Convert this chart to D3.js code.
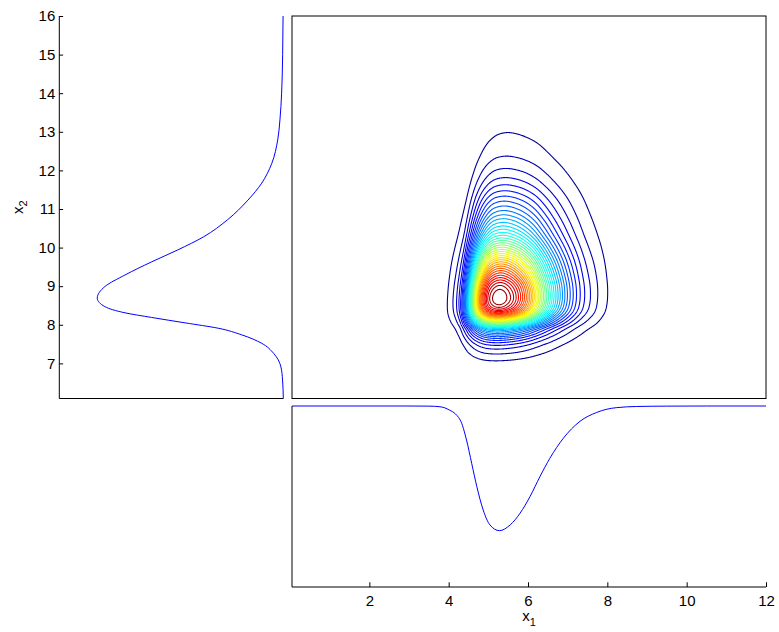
<!DOCTYPE html>
<html>
<head>
<meta charset="utf-8">
<script src="https://cdn.jsdelivr.net/npm/d3@7"></script>
<style>
  html, body { margin: 0; padding: 0; background: #fff; }
  svg text { font-family: "Liberation Sans", Arial, Helvetica, sans-serif; fill: #000; }
</style>
</head>
<body>
<svg id="chart" width="779" height="632"></svg>
<script>
// Marginal density of x1 (relative height, peak = 1)
const x1Values  = [0.05, 3.0, 3.5, 3.78, 3.98, 4.29, 4.45, 4.58, 4.71, 4.87, 5.04, 5.28,
                   5.55, 5.80, 6.05, 6.30, 6.55, 6.89, 7.31, 7.73, 7.97, 8.24, 8.74, 9.5, 10.5, 12.0];
const x1Density = [0, 0, 0.001, 0.006, 0.026, 0.112, 0.273, 0.46, 0.647, 0.834, 0.954, 1.0,
                   0.954, 0.86, 0.727, 0.567, 0.42, 0.259, 0.123, 0.052, 0.027, 0.013, 0.004, 0.001, 0, 0];

// Marginal density of x2 (relative height, peak = 1)
const x2Values  = [6.09, 6.57, 6.91, 7.09, 7.26, 7.52, 7.74, 7.91, 8.05, 8.19, 8.31, 8.47, 8.69,
                   8.99, 9.29, 9.63, 9.94, 10.28, 10.72, 11.23, 11.67, 12.18, 12.79, 13.31,
                   14.0, 15.0, 16.0];
const x2Density = [0, 0.004, 0.013, 0.027, 0.052, 0.116, 0.224, 0.349, 0.528, 0.708, 0.851, 0.959, 1.0,
                   0.959, 0.851, 0.708, 0.567, 0.428, 0.3, 0.19, 0.116, 0.062, 0.030, 0.018,
                   0.009, 0.0035, 0.0012];

// Axis ticks
const x1Ticks = [2, 4, 6, 8, 10, 12];
const x2Ticks = [7, 8, 9, 10, 11, 12, 13, 14, 15, 16];

// Joint density settings
const levelCount = 40;   // number of contour levels
const shear = 0.05;      // shift of the x1 profile per unit of x2

const svg = d3.select("#chart");

// ---- layout & scales -------------------------------------------------------
const mainBox = { left: 292, right: 766, top: 16, bottom: 398.5 };
const sideBox = { left: 59.3, right: 283.3 };
const baseBox = { top: 406, bottom: 587 };

const x = d3.scaleLinear().domain([0.05, 12]).range([mainBox.left, mainBox.right]);
const y = d3.scaleLinear().domain([6.09, 16]).range([mainBox.bottom, mainBox.top]);
const sideX = d3.scaleLinear().domain([0, 1.204]).range([sideBox.right, sideBox.left]);
const baseY = d3.scaleLinear().domain([0, 1.452]).range([baseBox.top, baseBox.bottom]);

// ---- monotone cubic interpolation (same slopes as d3.curveMonotone) --------
function monotone(xs, ys) {
  const n = xs.length, h = [], s = [], m = new Array(n);
  for (let i = 0; i < n - 1; i++) {
    h[i] = xs[i + 1] - xs[i];
    s[i] = (ys[i + 1] - ys[i]) / h[i];
  }
  for (let i = 1; i < n - 1; i++) {
    const p = (s[i - 1] * h[i] + s[i] * h[i - 1]) / (h[i - 1] + h[i]);
    m[i] = (Math.sign(s[i - 1]) + Math.sign(s[i])) *
           Math.min(Math.abs(s[i - 1]), Math.abs(s[i]), 0.5 * Math.abs(p)) || 0;
  }
  m[0] = (3 * s[0] - m[1]) / 2;
  m[n - 1] = (3 * s[n - 2] - m[n - 2]) / 2;
  return t => {
    if (t <= xs[0]) return ys[0];
    if (t >= xs[n - 1]) return ys[n - 1];
    const i = Math.min(n - 2, d3.bisectRight(xs, t) - 1);
    const dx = h[i], u = (t - xs[i]) / dx, u2 = u * u, u3 = u2 * u;
    return (2 * u3 - 3 * u2 + 1) * ys[i] + (u3 - 2 * u2 + u) * dx * m[i] +
           (-2 * u3 + 3 * u2) * ys[i + 1] + (u3 - u2) * dx * m[i + 1];
  };
}

const f1 = monotone(x1Values, x1Density);
const f2 = monotone(x2Values, x2Density);
const x2Mode = x2Values[d3.maxIndex(x2Density)];

// ---- joint density grid ------------------------------------------------------
const gx0 = 2.5, gx1 = 10.5, gy0 = 6.09, gy1 = 16, step = 0.016;
const nx = Math.round((gx1 - gx0) / step) + 1;
const ny = Math.round((gy1 - gy0) / step) + 1;
const grid = new Float64Array(nx * ny);
for (let j = 0; j < ny; j++) {
  const v = gy0 + j * step;
  const p2 = Math.max(0, f2(v));
  const off = shear * (v - x2Mode);
  for (let i = 0; i < nx; i++) {
    grid[j * nx + i] = Math.max(0, f1(gx0 + i * step - off)) * p2;
  }
}
const zMax = d3.max(grid);
const levels = d3.range(1, levelCount + 1).map(k => k * zMax / (levelCount + 1));

function jet(t) {
  const c = v => Math.round(255 * Math.max(0, Math.min(1, v)));
  return `rgb(${c(1.5 - Math.abs(4 * t - 3))},${c(1.5 - Math.abs(4 * t - 2))},${c(1.5 - Math.abs(4 * t - 1))})`;
}

const toScreen = d3.geoTransform({
  point(px, py) {
    this.stream.point(x(gx0 + (px - 0.5) * step), y(gy0 + (py - 0.5) * step));
  }
});
const contourPath = d3.geoPath(toScreen);

svg.append("clipPath").attr("id", "mainClip")
  .append("rect")
  .attr("x", mainBox.left).attr("y", mainBox.top)
  .attr("width", mainBox.right - mainBox.left)
  .attr("height", mainBox.bottom - mainBox.top);

const contours = d3.contours().size([nx, ny]).thresholds(levels)(grid);
svg.append("g").attr("clip-path", "url(#mainClip)")
  .selectAll("path").data(contours).join("path")
  .attr("d", contourPath)
  .attr("fill", "none")
  .attr("stroke", d => jet(d.value / zMax))
  .attr("stroke-width", 1.1);

// main frame
svg.append("rect")
  .attr("x", mainBox.left).attr("y", mainBox.top)
  .attr("width", mainBox.right - mainBox.left)
  .attr("height", mainBox.bottom - mainBox.top)
  .attr("fill", "none").attr("stroke", "#000").attr("stroke-width", 1);

// ---- left marginal (x2) ----------------------------------------------------
const x2Points = x2Values.map((v, i) => ({ v, d: x2Density[i] }));
svg.append("path")
  .datum(x2Points)
  .attr("d", d3.line().x(p => sideX(p.d)).y(p => y(p.v)).curve(d3.curveMonotoneY))
  .attr("fill", "none").attr("stroke", "#0000ff").attr("stroke-width", 1);

const leftAxis = svg.append("g")
  .attr("transform", `translate(${sideBox.left},0)`)
  .call(d3.axisLeft(y).tickValues(x2Ticks).tickSizeInner(-3.8).tickSizeOuter(0).tickPadding(4));
leftAxis.select(".domain").remove();
leftAxis.selectAll("line").attr("stroke", "#000");
leftAxis.selectAll("text").attr("font-size", 15).attr("font-family", null);

svg.append("path")
  .attr("d", `M${sideBox.left},${mainBox.top}V${mainBox.bottom}H${sideBox.right}`)
  .attr("fill", "none").attr("stroke", "#000").attr("stroke-width", 1);

svg.append("text")
  .attr("transform", `translate(23,${(mainBox.top + mainBox.bottom) / 2}) rotate(-90)`)
  .attr("text-anchor", "middle")
  .attr("font-size", 15)
  .call(t => {
    t.append("tspan").text("x");
    t.append("tspan").attr("dy", 4).attr("font-size", 11).text("2");
  });

// ---- bottom marginal (x1) --------------------------------------------------
const x1Points = x1Values.map((v, i) => ({ v, d: x1Density[i] }));
svg.append("path")
  .datum(x1Points)
  .attr("d", d3.line().x(p => x(p.v)).y(p => baseY(p.d)).curve(d3.curveMonotoneX))
  .attr("fill", "none").attr("stroke", "#0000ff").attr("stroke-width", 1);

const bottomAxis = svg.append("g")
  .attr("transform", `translate(0,${baseBox.bottom})`)
  .call(d3.axisBottom(x).tickValues(x1Ticks).tickSizeInner(-4.7).tickSizeOuter(0).tickPadding(8));
bottomAxis.select(".domain").remove();
bottomAxis.selectAll("line").attr("stroke", "#000");
bottomAxis.selectAll("text").attr("font-size", 15).attr("font-family", null);

svg.append("path")
  .attr("d", `M${mainBox.left},${baseBox.top}V${baseBox.bottom}H${mainBox.right}`)
  .attr("fill", "none").attr("stroke", "#000").attr("stroke-width", 1);

svg.append("text")
  .attr("x", (mainBox.left + mainBox.right) / 2)
  .attr("y", 621)
  .attr("text-anchor", "middle")
  .attr("font-size", 15)
  .call(t => {
    t.append("tspan").text("x");
    t.append("tspan").attr("dy", 5).attr("font-size", 11).text("1");
  });
</script>
</body>
</html>
